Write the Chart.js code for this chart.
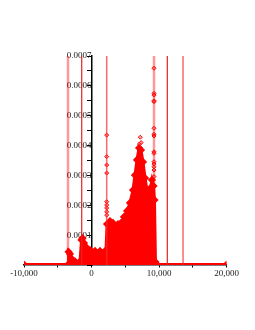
<!DOCTYPE html>
<html>
<head>
<meta charset="utf-8">
<script src="https://cdn.jsdelivr.net/npm/chart.js@4"></script>
<style>
  html, body { margin: 0; padding: 0; background: #fff; }
  #wrap { width: 255px; height: 330px; }
</style>
</head>
<body>
<div id="wrap"><canvas id="densityChart" width="255" height="330"></canvas></div>
<script>
// envelope of the dense point cloud (x, density)
const envX = [-10000, -3480, -3400, -3190, -2890, -2440, -1700, -1480, -1330, -1110, -740, -220, 520, 1260, 2150,
    2300, 2740, 3190, 3630, 3930, 4370, 4810, 5260, 5700, 6150, 6440, 6740, 7040, 7330, 7630, 7930, 8220, 8520, 8740,
    8960, 9190, 9330, 9480, 9560, 20000];
const envY = [0.0000015, 0.0000015, 0.000044, 0.000037, 0.00002, 0.000012, 0.000012, 0.000084, 0.00009,
    0.000074, 0.000059, 0.00005, 0.000047, 0.000047, 0.00005,
    0.000137, 0.000147, 0.000141, 0.000127, 0.000137, 0.000141, 0.000161, 0.000181, 0.000208, 0.000251, 0.000301,
    0.000352, 0.000392, 0.000385, 0.000345, 0.000291, 0.000251, 0.000231, 0.000258,
    0.000285, 0.000265, 0.000218, 0.00001, 0.0000015, 0.0000015];

// scattered points above the cloud
const outX = [2250, 2250, 2250, 2250, 2250, 2250, 2250, 2250, 2250,
    7230, 7100, 7350,
    9260, 9260, 9260, 9260, 9260, 9260, 9260, 9260, 9260, 9260, 9260, 9260, 9260, 9260, 9260, 9260];
const outY = [0.000435, 0.000363, 0.000335, 0.000308, 0.000212, 0.000201, 0.000191, 0.000178, 0.000167,
    0.000428, 0.000405, 0.000410,
    0.000659, 0.000575, 0.000569, 0.00055, 0.000547, 0.000458, 0.000438, 0.000432, 0.000379, 0.000374,
    0.000346, 0.000338, 0.000329, 0.000318, 0.000296, 0.000262];

// vertical reference lines
const vlineX = [-3480, -1450, 2250, 9260, 11230, 13560];
const vlineColor = ['rgba(255,0,0,0.4)', '#e52222', 'rgba(255,40,40,0.7)', 'rgba(255,0,0,0.4)', '#e52222', 'rgba(255,40,40,0.7)'];
const vlineWidth = [2.5, 1.2, 1.5, 2.5, 1.2, 1.5];

const yMax = 0.0007;

const datasets = [];
vlineX.forEach((vx, i) => {
    datasets.push({
        type: 'line',
        data: [{ x: vx, y: 0 }, { x: vx, y: yMax }],
        borderColor: vlineColor[i],
        borderWidth: vlineWidth[i],
        pointRadius: 0,
        fill: false
    });
});

datasets.push({
    type: 'scatter',
    data: envX.map((x, i) => ({ x: x, y: envY[i] })),
    showLine: true,
    borderColor: '#ff0000',
    borderWidth: 3,
    backgroundColor: '#ff0000',
    fill: 'origin',
    tension: 0,
    pointStyle: 'rectRot',
    pointRadius: 2,
    pointBorderColor: '#ff0000',
    pointBackgroundColor: 'rgba(255,90,90,0.6)'
});

datasets.push({
    type: 'scatter',
    data: outX.map((x, i) => ({ x: x, y: outY[i] })),
    pointStyle: 'rectRot',
    pointRadius: 2,
    borderWidth: 1,
    borderColor: '#ff0000',
    backgroundColor: 'rgba(255,90,90,0.5)'
});

const tickFont = { family: 'Liberation Serif', size: 9 };

new Chart(document.getElementById('densityChart'), {
    type: 'scatter',
    data: { datasets: datasets },
    options: {
        responsive: false,
        animation: false,
        layout: { padding: { left: 24, right: 28.5, top: 56, bottom: 65 } },
        scales: {
            x: {
                type: 'linear',
                min: -10000,
                max: 20000,
                position: { y: 0 },
                z: 1,
                grid: { drawOnChartArea: false, tickLength: 2, color: '#000' },
                border: { color: '#000', width: 1.5 },
                ticks: {
                    stepSize: 5000,
                    autoSkip: false,
                    maxRotation: 0,
                    padding: 1,
                    color: '#222',
                    font: tickFont,
                    callback: function(value) {
                        return value % 10000 === 0 ? value.toLocaleString('en-US') : '';
                    }
                }
            },
            y: {
                type: 'linear',
                min: 0,
                max: yMax,
                position: { x: 0 },
                z: 1,
                grid: { drawOnChartArea: false, tickLength: 4, color: '#000' },
                border: { color: '#000', width: 1.5 },
                ticks: {
                    stepSize: 0.00005,
                    autoSkip: false,
                    padding: 0,
                    color: '#222',
                    font: tickFont,
                    callback: function(value) {
                        const n = Math.round(value / 0.00005);
                        if (n === 0 || n % 2 === 1) return '';
                        return value.toFixed(4);
                    }
                }
            }
        },
        plugins: {
            legend: { display: false },
            tooltip: { enabled: false }
        }
    }
});
</script>
</body>
</html>
